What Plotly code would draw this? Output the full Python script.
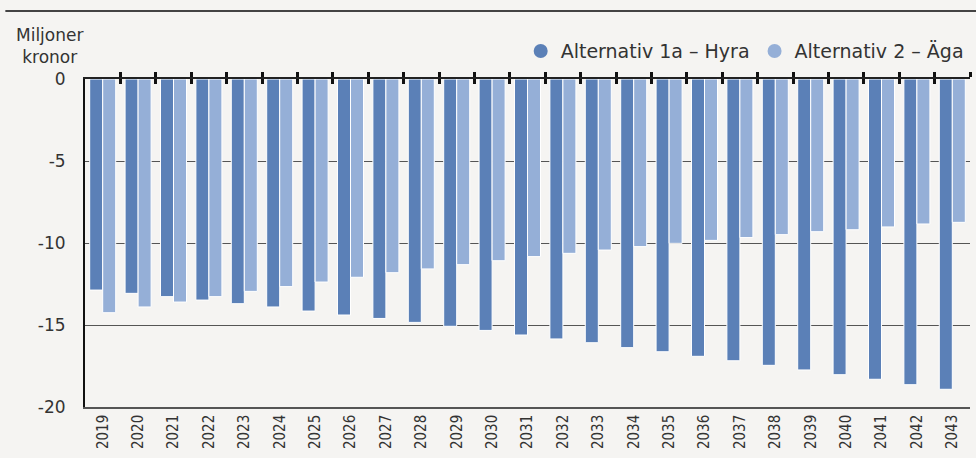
import plotly.graph_objects as go

years = [str(y) for y in range(2019, 2044)]
alt1a = [-12.87, -13.07, -13.27, -13.48, -13.70, -13.90, -14.15, -14.39, -14.60, -14.84,
         -15.08, -15.33, -15.61, -15.85, -16.08, -16.38, -16.63, -16.91, -17.18, -17.46,
         -17.74, -18.03, -18.31, -18.64, -18.92]
alt2 = [-14.25, -13.90, -13.60, -13.27, -12.95, -12.66, -12.38, -12.09, -11.81, -11.58,
        -11.32, -11.08, -10.83, -10.63, -10.43, -10.22, -10.02, -9.84, -9.67, -9.49,
        -9.31, -9.19, -9.02, -8.84, -8.74]
names = ["Alternativ 1a – Hyra", "Alternativ 2 – Äga"]
y_ticks = [0, -5, -10, -15, -20]
y_labels = ["0", "-5", "-10", "-15", "-20"]

C1 = "#5b80b7"
C2 = "#95afd7"
BG = "#f5f4f2"
FONT = "DejaVu Sans"
NARROW = "Liberation Sans Narrow, DejaVu Sans Condensed"

fig = go.Figure()
fig.add_trace(go.Bar(x=years, y=alt1a, marker=dict(color=C1, line=dict(color="#ffffff", width=1)),
                     showlegend=False, name=names[0]))
fig.add_trace(go.Bar(x=years, y=alt2, marker=dict(color=C2, line=dict(color="#ffffff", width=1)),
                     showlegend=False, name=names[1]))
# legend entries with circular markers
for nm, c in zip(names, [C1, C2]):
    fig.add_trace(go.Scatter(x=[None], y=[None], mode="markers", name=nm,
                             marker=dict(symbol="circle", size=14, color=c)))
# helper traces for the top tick axes
fig.add_trace(go.Scatter(x=[None], y=[None], xaxis="x2", showlegend=False, hoverinfo="skip"))
fig.add_trace(go.Scatter(x=[None], y=[None], xaxis="x3", showlegend=False, hoverinfo="skip"))

boundaries = [i + 0.5 for i in range(len(years))]

fig.update_layout(
    width=976, height=458,
    paper_bgcolor=BG, plot_bgcolor=BG,
    margin=dict(l=85, r=6, t=79, b=51),
    barmode="group", bargap=0.265, bargroupgap=0,
    font=dict(family=FONT, color="#333333", size=17),
    xaxis=dict(type="category", tickangle=-90, tickfont=dict(family=NARROW, size=15, color="#333333"),
               showline=True, linecolor="#555555", linewidth=1.5, ticks="",
               showgrid=False, range=[-0.5, 24.5]),
    xaxis2=dict(overlaying="x", side="top", range=[-0.5, 24.5], tickvals=boundaries,
                showticklabels=False, ticks="outside", ticklen=5, tickwidth=2.5,
                tickcolor="#111111", showline=True, linecolor="#222222", linewidth=2,
                showgrid=False, zeroline=False),
    xaxis3=dict(overlaying="x", side="top", range=[-0.5, 24.5], tickvals=boundaries,
                showticklabels=False, ticks="inside", ticklen=5, tickwidth=2.5,
                tickcolor="#111111", showline=False, showgrid=False, zeroline=False),
    yaxis=dict(range=[-20, 0], tickvals=y_ticks, ticktext=y_labels,
               tickfont=dict(size=17, color="#333333"), ticks="", ticklabelstandoff=14,
               showgrid=True, gridcolor="#555555", gridwidth=1, zeroline=False,
               showline=True, linecolor="#111111", linewidth=2),
    legend=dict(orientation="h", x=0.9985, xanchor="right", y=1.085, yanchor="middle",
                bgcolor="rgba(0,0,0,0)", font=dict(size=19, color="#333333"),
                itemwidth=30, traceorder="normal"),
    annotations=[dict(text="Miljoner<br>kronor", xref="paper", yref="paper",
                      x=-0.04, y=1.10, xanchor="center", yanchor="middle",
                      showarrow=False, font=dict(size=17, color="#333333"), align="center")],
    shapes=[dict(type="line", xref="paper", yref="paper", x0=-0.09, x1=1.01,
                 y0=1.207, y1=1.207, line=dict(color="#444444", width=2))],
)

fig.write_html("out.html", config={"displayModeBar": False},
               post_script="document.body.style.margin='0';document.body.style.overflow='hidden';")
